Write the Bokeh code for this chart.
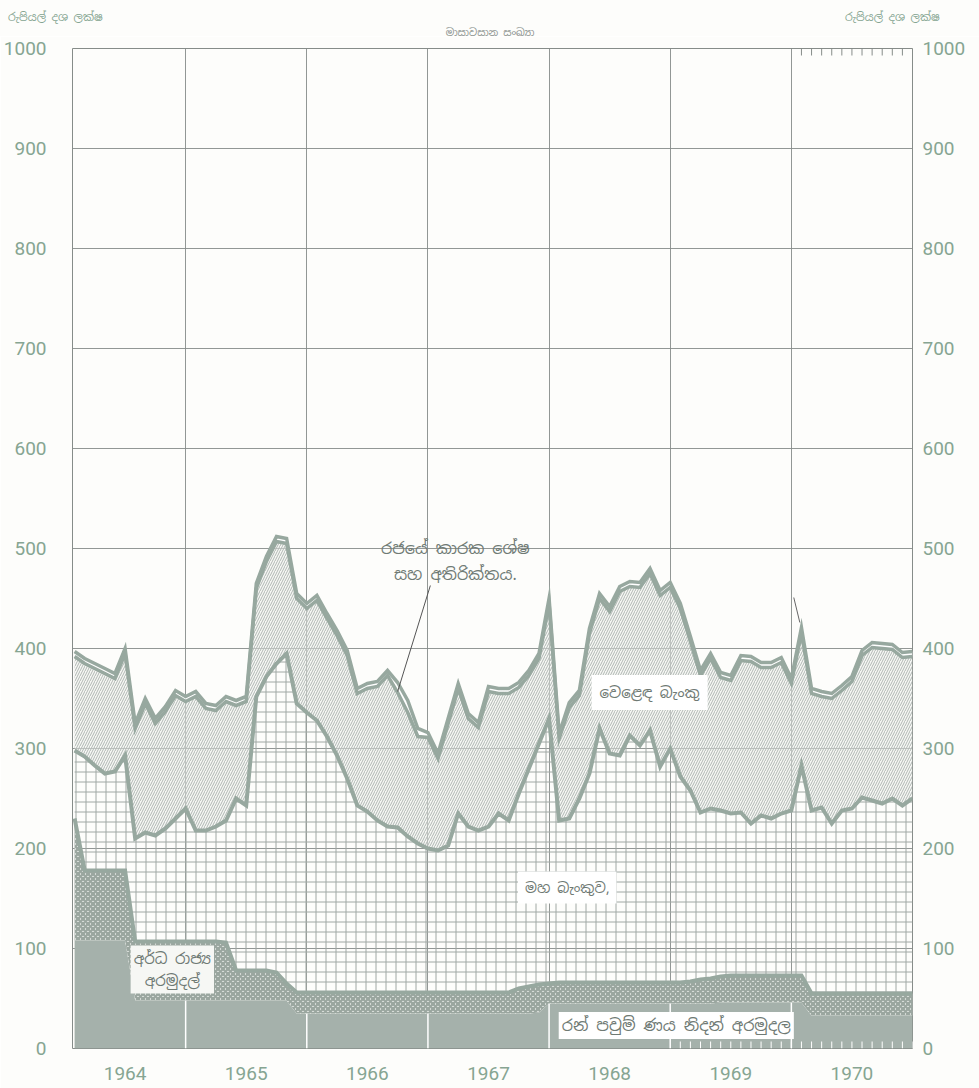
import numpy as np
from bokeh.plotting import figure
from bokeh.layouts import column
from bokeh.models import Range1d, LinearAxis, FixedTicker, Label, Div
from bokeh.embed import file_html
from bokeh.resources import INLINE

# ---------------- data (Rs. million, end of month, Jan 1964 .. Dec 1970) ----------------
month_index = list(range(1, 85))
year_starts = [1965, 1966, 1967, 1968, 1969, 1970]
year_mid = [1964.5, 1965.5, 1966.5, 1967.5, 1968.5, 1969.5, 1970.5]
year_labels = ["1964", "1965", "1966", "1967", "1968", "1969", "1970"]
y_ticks = [0, 100, 200, 300, 400, 500, 600, 700, 800, 900, 1000]

sinking_fund = [108] * 6 + [48] * 16 + [35] * 24 + [36] + [45] * 17 + [46] * 9 + [33] * 11
semi_govt = ([122] + [70] * 5 + [59] * 9 + [58] + [30] * 4 + [28] + [17] + [21] * 22
             + [25, 27, 28, 20] + [21] * 13 + [22, 24, 25, 26] + [27] * 8 + [22] * 11)
central_bank = [68, 114, 105, 97, 99, 115, 103, 109, 106, 113, 123, 133,
                111, 111, 115, 122, 172, 165, 274, 294, 309, 330, 289, 280,
                272, 256, 237, 214, 187, 181, 172, 166, 165, 156, 149, 144,
                142, 147, 179, 166, 162, 166, 179, 172, 195, 218, 241, 265,
                162, 164, 184, 209, 254, 229, 227, 247, 237, 252, 216, 234,
                206, 191, 167, 170, 166, 162, 163, 152, 160, 157, 162, 165,
                210, 183, 186, 170, 183, 185, 196, 193, 190, 195, 188, 195]
commercial_banks = [94, 93, 97, 100, 93, 102, 110, 129, 112, 117, 123, 107,
                    134, 122, 116, 119, 93, 104, 108, 115, 122, 110, 105, 104,
                    120, 118, 120, 123, 112, 123, 134, 151, 135, 124, 107, 111,
                    92, 122, 125, 108, 103, 135, 120, 127, 106, 93, 85, 115,
                    82, 111, 103, 140, 130, 142, 164, 149, 158, 157, 171, 161,
                    168, 149, 137, 150, 133, 133, 152, 162, 148, 151, 151, 127,
                    133, 117, 111, 125, 120, 127, 142, 153, 155, 149, 148, 142]
govt_balances = [5] * 32 + [10, 12, 8] + [5] * 49

unit_text = "රුපියල් දශ ලක්ෂ"
subtitle_text = "මාසාවසාන සංඛ්‍යා"
name_govt = "රජයේ කාරක ශේෂ\nසහ අතිරික්තය."
name_commercial = "වෙළෙඳ බැංකු"
name_central = "මහ බැංකුව,"
name_semi = "අර්ධ රාජ්‍ය\nඅරමුදල්"
name_sinking = "රන් පවුම් ණය නිදන් අරමුදල"

# ---------------- styling ----------------
SIN = "'Noto Sans Sinhala', 'Noto Serif Sinhala', 'Noto Sans', sans-serif"
NUM = "Roboto, 'Liberation Sans', sans-serif"
LINE_C = "#97a89f"
DARK_C = "#a5b1ab"
TXT_C = "#86a592"
LBL_C = "#6f7a74"
GRID_C = "#868c89"
BG = "#fdfdfb"

x = 1964 + np.array(month_index) / 12.0
sf = np.array(sinking_fund, dtype=float)
sg = np.array(semi_govt, dtype=float)
cb = np.array(central_bank, dtype=float)
cm = np.array(commercial_banks, dtype=float)
gv = np.array(govt_balances, dtype=float)
l1 = sf
l2 = l1 + sg
l3 = l2 + cb
l4 = l3 + cm
l5 = l4 + gv

W = 979
HEAD_H = 36

# ---------------- header strip (unit + subtitle) ----------------
span = "position:absolute;white-space:nowrap;font-family:" + SIN.replace("'", "&quot;") + ";"
head_html = (
    f'<div style="position:relative;width:{W}px;height:{HEAD_H}px;background:{BG};">'
    f'<span style="{span}left:8px;top:10px;font-size:11px;color:{TXT_C};">{unit_text}</span>'
    f'<span style="{span}left:845px;top:10px;font-size:11px;color:{TXT_C};">{unit_text}</span>'
    f'<span style="{span}left:490px;top:26px;font-size:10px;color:#8a918d;'
    f'transform:translateX(-50%);">{subtitle_text}</span>'
    '</div>'
)
head = Div(text=head_html, width=W, height=HEAD_H, margin=(0, 0, 0, 0))

# ---------------- main chart ----------------
p = figure(width=W, height=1052, output_backend="svg", toolbar_location=None,
           x_range=Range1d(1964.066, 1971.0), y_range=Range1d(0, 1000),
           min_border_left=72, min_border_right=67, min_border_top=12, min_border_bottom=40,
           background_fill_color=BG, border_fill_color=BG)
p.outline_line_color = GRID_C
p.outline_line_width = 1

p.ygrid.ticker = FixedTicker(ticks=y_ticks)
p.xgrid.ticker = FixedTicker(ticks=year_starts)
for g in (p.xgrid, p.ygrid):
    g.grid_line_color = GRID_C
    g.grid_line_width = 1
    g.grid_line_alpha = 0.9

p.yaxis.ticker = FixedTicker(ticks=y_ticks)
p.xaxis.ticker = FixedTicker(ticks=year_mid)
p.xaxis.major_label_overrides = {m: s for m, s in zip(year_mid, year_labels)}
right = LinearAxis(ticker=FixedTicker(ticks=y_ticks))
p.add_layout(right, "right")
for ax in (p.xaxis[0], p.yaxis[0], right):
    ax.axis_line_color = None
    ax.major_tick_line_color = None
    ax.minor_tick_line_color = None
    ax.major_tick_out = 0
    ax.major_tick_in = 0
    ax.minor_tick_out = 0
    ax.minor_tick_in = 0
    ax.major_label_text_font = NUM
    ax.major_label_text_font_size = "19px"
    ax.major_label_text_color = TXT_C
p.yaxis[0].major_label_standoff = 26
right.major_label_standoff = 10
p.xaxis[0].major_label_standoff = 18

# stacked areas
p.varea(x=x, y1=0, y2=l1, fill_color=DARK_C, fill_alpha=1)
p.varea(x=x, y1=l1, y2=l2, fill_color="#e6e9e6", fill_alpha=1,
        hatch_pattern="diagonal_cross", hatch_color="#9aa69f", hatch_scale=5, hatch_weight=2.3)
p.varea(x=x, y1=l2, y2=l3, fill_color=BG, fill_alpha=0.0,
        hatch_pattern="cross", hatch_color="#a0a8a4", hatch_scale=10, hatch_weight=1)
p.varea(x=x, y1=l3, y2=l4, fill_color="#f1f2ef", fill_alpha=0.5,
        hatch_pattern="right_diagonal_line", hatch_color="#aeb7b2", hatch_scale=5, hatch_weight=1)
p.varea(x=x, y1=l4, y2=l5, fill_color="white", fill_alpha=1)

# white year separators across the dark band
p.segment(x0=year_starts, y0=[0] * 6, x1=year_starts, y1=list(np.interp(year_starts, x, l1)),
          line_color="white", line_width=1.5)

# monthly tick marks (1969-70 at the bottom, 1970 at the top)
bx = x[x > 1969.01]
p.segment(x0=bx, y0=[0] * len(bx), x1=bx, y1=[7] * len(bx), line_color="white", line_width=1)
tx = x[x > 1970.01]
p.segment(x0=tx, y0=[1000] * len(tx), x1=tx, y1=[993] * len(tx), line_color=GRID_C, line_width=1)

# boundary lines
p.line(x, l2, line_color=LINE_C, line_width=4, line_join="miter")
p.line(x, l3, line_color=LINE_C, line_width=4, line_join="miter")
p.line(x, l4, line_color=LINE_C, line_width=3.5, line_join="miter")
p.line(x, l5, line_color=LINE_C, line_width=3.5, line_join="miter")

# leader lines
p.segment(x0=[1967.02], y0=[463], x1=[1966.75], y1=[357], line_color="#555", line_width=1)
p.segment(x0=[1970.02], y0=[451], x1=[1970.07], y1=[426], line_color="#666", line_width=1)

def lab(xv, yv, txt, size="15px", bg=None, pad=0):
    l = Label(x=xv, y=yv, text=txt, text_font=SIN, text_font_size=size, text_color=LBL_C,
              text_align="center", text_baseline="middle",
              background_fill_color=bg, background_fill_alpha=1 if bg else 0, padding=pad)
    p.add_layout(l)

lab(1967.226, 487, name_govt, "16px")
lab(1968.83, 356, name_commercial, "15px", "white", 8)
lab(1968.15, 161, name_central, "14px", "white", 7)
lab(1964.89, 79, name_semi, "15px", "#f6f7f4", 3)
lab(1969.05, 23, name_sinking, "16px", "white", 3)

open("out.html", "w").write(file_html(column(head, p), INLINE))
